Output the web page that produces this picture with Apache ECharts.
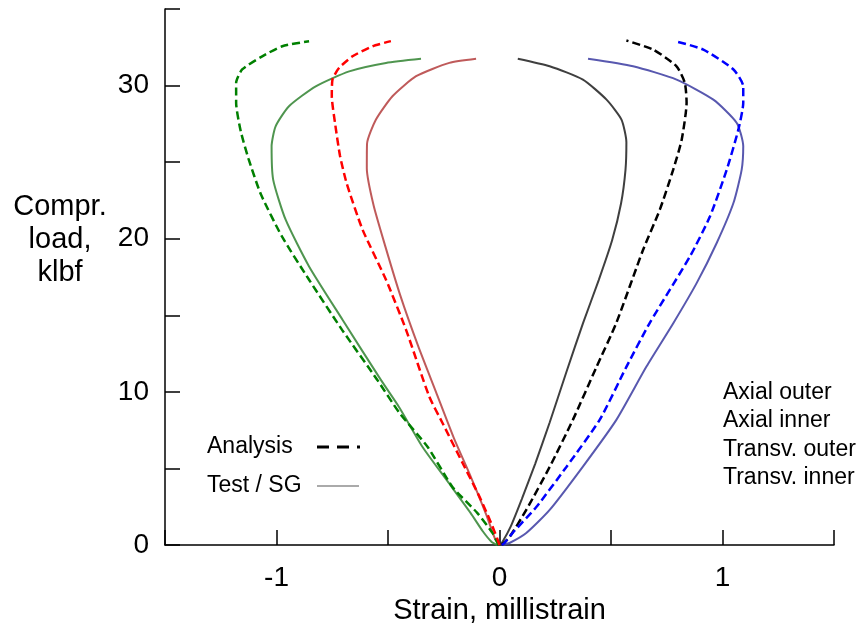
<!DOCTYPE html>
<html>
<head>
<meta charset="utf-8">
<script src="https://cdn.jsdelivr.net/npm/echarts@6/dist/echarts.min.js"></script>
<style>
html,body{margin:0;padding:0;background:#fff;}
#chart{width:862px;height:637px;}
</style>
</head>
<body>
<div id="chart"></div>
<script>
// ---- data: [strain (millistrain), compressive load (klbf)] ----
var greenAnalysis = [[0,0],[-0.009,0.13],[-0.031,0.78],[-0.1,2.1],[-0.211,3.79],[-0.322,6.4],[-0.449,8.63],[-0.548,10.78],[-0.706,14.05],[-0.854,17.32],[-0.975,20.13],[-1.07,22.9],[-1.125,25.2],[-1.16,27.0],[-1.181,28.87],[-1.181,30.18],[-1.154,31.05],[-1.064,31.91],[-0.974,32.57],[-0.854,32.9]];
var greenTest = [[-0.01,0],[-0.035,0.2],[-0.075,0.9],[-0.13,2.1],[-0.235,4.2],[-0.345,6.4],[-0.45,9.0],[-0.532,10.78],[-0.704,14.71],[-0.854,18.19],[-0.959,21.24],[-1.015,23.86],[-1.022,26.03],[-1.004,27.34],[-0.944,28.65],[-0.824,29.95],[-0.674,30.93],[-0.509,31.48],[-0.352,31.75]];
var redAnalysis = [[0,0],[-0.008,0.33],[-0.037,1.42],[-0.09,3.16],[-0.165,5.34],[-0.255,7.95],[-0.315,9.69],[-0.419,14.05],[-0.509,17.32],[-0.614,20.59],[-0.685,23.6],[-0.715,25.4],[-0.737,27.5],[-0.752,29.3],[-0.749,30.39],[-0.719,31.16],[-0.659,31.91],[-0.569,32.57],[-0.487,32.9]];
var redTest = [[0,0],[-0.02,0.4],[-0.06,2.0],[-0.13,4.5],[-0.205,7.0],[-0.285,10.0],[-0.365,13.0],[-0.445,16.3],[-0.512,19.5],[-0.565,22.2],[-0.595,24.6],[-0.594,26.2],[-0.554,27.78],[-0.48,29.3],[-0.374,30.61],[-0.225,31.48],[-0.105,31.75]];
var blackAnalysis = [[0.01,0],[0.045,0.52],[0.12,2.29],[0.225,5.1],[0.329,8.17],[0.435,11.63],[0.524,14.51],[0.644,19.28],[0.719,21.9],[0.779,24.51],[0.817,26.47],[0.839,28.89],[0.831,30.18],[0.794,31.26],[0.689,32.35],[0.569,32.94]];
var blackTest = [[0,0],[0.013,0.2],[0.05,1.2],[0.1,3.0],[0.16,5.3],[0.225,8.0],[0.3,11.3],[0.375,14.5],[0.445,17.3],[0.505,19.9],[0.545,22.3],[0.565,24.5],[0.569,26.3],[0.547,27.78],[0.48,29.08],[0.374,30.39],[0.225,31.26],[0.082,31.75]];
var blueAnalysis = [[0.01,0],[0.022,0.13],[0.058,0.78],[0.165,2.48],[0.3,5.1],[0.449,8.17],[0.569,11.63],[0.674,14.51],[0.854,18.84],[0.944,21.46],[1.019,24.51],[1.071,27.12],[1.093,28.87],[1.093,29.95],[1.049,31.05],[0.914,32.35],[0.787,32.9]];
var blueTest = [[0.013,0],[0.045,0.13],[0.12,0.78],[0.225,2.29],[0.374,5.12],[0.524,8.17],[0.659,11.65],[0.78,14.5],[0.884,17.1],[0.974,19.72],[1.049,22.33],[1.086,24.51],[1.093,26.03],[1.064,27.56],[0.959,29.08],[0.794,30.39],[0.599,31.26],[0.397,31.75]];

var xTickLabels = ['-1','0','1'];
var yTickLabels = ['0','10','20','30'];
var curveNames = ['Axial outer','Axial inner','Transv. outer','Transv. inner'];
var legendNames = ['Analysis','Test / SG'];

var FONT = '"Liberation Sans", Arial, Helvetica, sans-serif';
var chart = echarts.init(document.getElementById('chart'), null, {renderer:'canvas'});

function dashed(name, data, color){
  return {name:name, type:'line', data:data, showSymbol:false, smooth:0.2, z:3,
    lineStyle:{color:color, width:2.5, type:[8,4]}};
}
function solid(name, data, color){
  return {name:name, type:'line', data:data, showSymbol:false, smooth:0.2, z:2,
    lineStyle:{color:color, width:2, opacity:0.9}};
}

chart.setOption({
  animation:false,
  backgroundColor:'#fff',
  grid:{left:165, right:28, top:9, bottom:92, containLabel:false},
  xAxis:{
    type:'value', min:-1.5, max:1.5, interval:0.5,
    axisLine:{show:true, onZero:false, lineStyle:{color:'#000', width:1.5}},
    axisTick:{show:true, inside:true, length:15, lineStyle:{color:'#000', width:1.5}},
    splitLine:{show:false},
    axisLabel:{fontFamily:FONT, fontSize:28, color:'#000', margin:19,
      formatter:function(v){ var s = String(Math.round(v*10)/10); return xTickLabels.indexOf(s)>=0 ? s : ''; }},
    name:'Strain, millistrain', nameLocation:'middle', nameGap:49,
    nameTextStyle:{fontFamily:FONT, fontSize:29, color:'#000'}
  },
  yAxis:{
    type:'value', min:0, max:35, interval:5,
    axisLine:{show:true, onZero:false, lineStyle:{color:'#000', width:1.5}},
    axisTick:{show:true, inside:true, length:15, lineStyle:{color:'#000', width:1.5}},
    splitLine:{show:false},
    axisLabel:{fontFamily:FONT, fontSize:28, color:'#000', margin:16,
      formatter:function(v){ var s = String(v); return yTickLabels.indexOf(s)>=0 ? s : ''; }}
  },
  series:[
    solid('Test green', greenTest, '#3c8a3c'),
    solid('Test red', redTest, '#b84848'),
    solid('Test black', blackTest, '#2a2a2a'),
    solid('Test blue', blueTest, '#4646a6'),
    dashed('Analysis green', greenAnalysis, '#008000'),
    dashed('Analysis red', redAnalysis, '#ff0000'),
    dashed('Analysis black', blackAnalysis, '#000000'),
    dashed('Analysis blue', blueAnalysis, '#0000ff')
  ],
  graphic:[
    {type:'text', x:60, y:190, style:{text:'Compr.\nload,\nklbf', fontFamily:FONT, fontSize:29, fill:'#000', align:'center', lineHeight:33}},
    {type:'text', x:207, y:447, style:{text:legendNames[0], fontFamily:FONT, fontSize:23, fill:'#000', verticalAlign:'middle'}},
    {type:'text', x:207, y:486, style:{text:legendNames[1], fontFamily:FONT, fontSize:23, fill:'#000', verticalAlign:'middle'}},
    {type:'line', shape:{x1:317, y1:447, x2:360, y2:447}, style:{stroke:'#000', lineWidth:3, lineDash:[12,8]}},
    {type:'line', shape:{x1:317, y1:486, x2:359, y2:486}, style:{stroke:'#aaa', lineWidth:2}},
    {type:'text', x:723, y:393, style:{text:curveNames[0], fontFamily:FONT, fontSize:23, fill:'#000', verticalAlign:'middle'}},
    {type:'text', x:723, y:421, style:{text:curveNames[1], fontFamily:FONT, fontSize:23, fill:'#000', verticalAlign:'middle'}},
    {type:'text', x:723, y:450, style:{text:curveNames[2], fontFamily:FONT, fontSize:23, fill:'#000', verticalAlign:'middle'}},
    {type:'text', x:723, y:478, style:{text:curveNames[3], fontFamily:FONT, fontSize:23, fill:'#000', verticalAlign:'middle'}}
  ]
});
</script>
</body>
</html>
